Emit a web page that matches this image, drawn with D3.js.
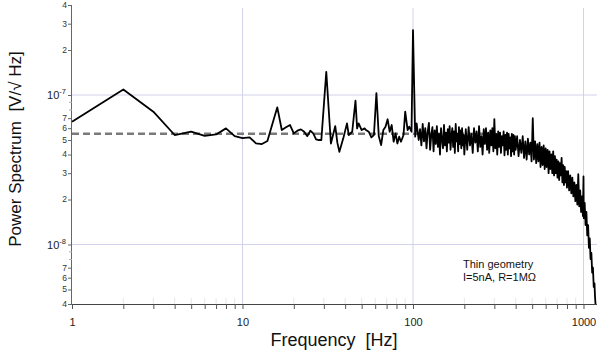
<!DOCTYPE html>
<html><head><meta charset="utf-8">
<script src="https://cdn.jsdelivr.net/npm/d3@7"></script>
<style>
body{margin:0;background:#fff}
svg{display:block;font-family:"Liberation Sans",Arial,Helvetica,sans-serif}
.pre{white-space:pre}
</style>
</head><body>
<svg id="chart" width="600" height="352"></svg>
<script>
// ---- data (frequency in Hz, spectrum in units of 1e-8 V/sqrt(Hz)) ----
const psdUnit = 1e-8;
const freqHz = [
  1,2,3,4,5,6,7,8,9,10,11,12,13,14,15,16,17,18,19,20,21,22,23,24,25,26,27,28,29,
  31,33,35,36,37,39,41,42,44,46,47,48,50,52,53,55,57,59,61,63,65,67,69,71,73,75,77,79,81,83,85,88,90,93,95,98,
  100,103,105,108,
  110,112,114,116,118,120,122,124,126,128,130,132,134,136,138,140,142,144,146,148,150,152,154,156,158,160,
  162,164,166,168,170,172,174,176,178,180,182,184,186,188,190,192,194,196,198,200,
  204,208,212,216,220,224,228,232,236,240,244,248,252,256,260,264,268,272,276,280,284,288,292,296,300,
  304,308,312,316,320,324,328,332,336,340,344,348,352,356,360,364,368,372,376,380,384,388,392,396,400,
  408,416,424,432,440,448,456,464,472,480,488,496,504,512,520,528,536,544,552,560,568,576,584,592,600,
  608,616,624,632,640,648,656,664,672,680,688,696,704,712,720,728,736,744,752,760,768,776,784,792,800,
  812,824,836,848,860,872,884,896,908,920,932,944,956,968,980,992,1000,1004,1016,1028,1040,1052,1064,1076,
  1088,1100,1112,1124,1136,1148,1160,1168,1176
];
const psdValues = [
  6.62,10.9,7.73,5.40,5.68,5.33,5.45,5.98,5.31,5.15,5.21,4.75,4.70,4.92,6.46,8.27,5.83,6.08,6.30,5.54,5.77,5.89,5.68,5.31,5.77,5.54,5.05,5.00,5.00,
  14.3,4.74,6.20,4.80,4.17,5.13,6.46,5.40,5.68,9.16,5.98,6.46,5.83,5.98,5.83,5.68,5.21,5.40,10.3,5.31,4.63,5.83,6.14,6.88,5.68,6.30,4.87,5.54,4.74,5.26,4.87,5.40,7.73,5.83,6.14,5.68,
  27.2,5.26,6.46,5.00,
  5.9,4.6,6.4,4.9,6.0,4.4,5.7,6.5,4.3,5.4,6.1,4.2,5.8,4.7,6.2,4.5,5.5,4.0,6.0,5.0,4.4,6.3,4.6,5.6,4.2,5.9,
  4.8,6.2,4.3,5.3,6.0,4.5,5.7,4.1,6.4,4.9,5.5,4.2,6.1,4.7,5.8,4.4,6.0,4.6,5.4,4.0,
  5.9,4.3,6.1,4.6,5.5,4.1,6.0,4.8,5.7,4.2,6.2,4.5,5.3,4.0,5.9,4.7,6.0,4.3,5.6,4.1,5.8,4.6,6.0,4.2,6.9,
  4.4,5.5,4.0,5.7,4.5,5.6,4.1,5.3,4.6,5.7,3.95,5.4,4.3,5.6,4.0,5.5,4.4,5.2,3.9,5.5,4.2,5.4,4.0,5.3,4.3,
  5.3,3.9,5.0,4.1,5.3,3.8,4.9,3.7,5.1,4.0,4.8,3.6,7.0,3.7,4.9,3.5,4.7,3.6,4.8,3.3,4.5,3.4,4.6,3.2,4.4,
  3.3,4.3,3.0,4.2,3.2,4.0,3.0,4.2,2.9,3.9,3.0,3.7,2.8,3.6,2.7,3.5,2.9,3.8,2.6,3.4,2.5,3.3,2.6,3.1,2.4,
  3.1,2.3,2.9,2.2,2.8,2.1,2.6,1.95,2.5,1.85,2.95,1.8,2.3,1.65,2.1,1.55,2.85,1.5,1.9,1.35,1.65,1.15,1.35,0.95,
  1.1,0.8,0.88,0.65,0.7,0.52,0.55,0.45,0.40
];
const fitLevel = 5.5e-8;          // dashed reference level
const fitFreqRange = [1, 300];
const xDomain = [1, 1200];
const yDomain = [4e-9, 4e-7];
const xMajorTicks = [1, 10, 100, 1000];
const xTickLabels = ["1", "10", "100", "1000"];
const yDecades = [1e-9, 1e-8, 1e-7];
const yMajorTicks = [1e-8, 1e-7];
const yMajorLabels = ["-8", "-7"];
const tickMantissas = [2, 3, 4, 5, 6, 7, 8, 9];
const labelledMantissas = [2, 3, 4, 5, 6, 7];
const xTitle = "Frequency  [Hz]";
const yTitle = "Power Spectrum  [V/\u221A Hz]";
const noteLines = ["Thin geometry", "I=5nA, R=1M\u03A9"];

// ---- layout ----
const svg = d3.select("#chart");
const L = 72, R = 597, T = 5, B = 304;
const x = d3.scaleLog().domain(xDomain).range([L, R]);
const y = d3.scaleLog().domain(yDomain).range([B, T]);

const data = freqHz.map((f, i) => ({f, v: psdValues[i] * psdUnit}));

// grid
const gridColor = "#d2d2ea";
svg.append("g").selectAll("line").data(xMajorTicks.filter(d => d > xDomain[0]))
  .join("line").attr("x1", d => x(d)).attr("x2", d => x(d))
  .attr("y1", 8).attr("y2", B).attr("stroke", gridColor).attr("stroke-width", 1);
svg.append("g").selectAll("line").data(yMajorTicks)
  .join("line").attr("x1", L).attr("x2", R)
  .attr("y1", d => y(d)).attr("y2", d => y(d)).attr("stroke", gridColor).attr("stroke-width", 1);

// minor tick values
const xMinor = [];
xMajorTicks.forEach(dec => tickMantissas.forEach(m => { const v = dec * m; if (v <= xDomain[1]) xMinor.push(v); }));
const yAll = [];
yDecades.forEach(dec => tickMantissas.forEach(m => {
  const v = dec * m; if (v >= yDomain[0] * 0.999 && v <= yDomain[1] * 1.001) yAll.push({v, m});
}));

// faint inner ticks on x axis
svg.append("g").selectAll("line").data(xMinor).join("line")
  .attr("x1", d => x(d)).attr("x2", d => x(d)).attr("y1", B - 6).attr("y2", B)
  .attr("stroke", "#e6e6e6").attr("stroke-width", 1);

// x axis
const xAxis = d3.axisBottom(x).tickValues(xMajorTicks.concat(xMinor))
  .tickSize(5).tickFormat(d => { const i = xMajorTicks.indexOf(d); return i >= 0 ? xTickLabels[i] : ""; });
const gx = svg.append("g").attr("transform", `translate(0,${B})`).call(xAxis);
gx.select(".domain").attr("stroke", "#444").attr("d", `M${L},0.5H${R}`);
gx.selectAll(".tick line").attr("stroke", "#555");
gx.selectAll(".tick text").attr("font-size", 11).attr("fill", "#222").attr("dy", "0.71em").attr("y", 14)
  .attr("font-family", "Liberation Sans, Arial, sans-serif");

// y axis
const yAxis = d3.axisLeft(y).tickValues(yAll.map(d => d.v).concat(yMajorTicks))
  .tickSize(4).tickFormat(() => "");
const gy = svg.append("g").attr("transform", `translate(${L},0)`).call(yAxis);
gy.select(".domain").attr("stroke", "#666").attr("d", `M-0.5,${T}V${B}`);
gy.selectAll(".tick line").attr("stroke", "#666");
gy.selectAll(".tick").each(function(d) {
  const item = yAll.find(e => Math.abs(e.v - d) / d < 1e-6);
  if (item && !labelledMantissas.includes(item.m)) {
    d3.select(this).select("line").attr("x2", -3).attr("stroke", "#aaa");
  }
});
// minor labels
svg.append("g").selectAll("text").data(yAll.filter(d => labelledMantissas.includes(d.m)))
  .join("text").attr("x", L - 5).attr("y", d => y(d.v)).attr("dy", "0.35em")
  .attr("text-anchor", "end").attr("font-size", 8.5).attr("fill", "#333").text(d => d.m);
// major labels with superscript
const maj = svg.append("g").selectAll("text").data(yMajorTicks).join("text")
  .attr("x", L - 6).attr("y", d => y(d) + 4).attr("text-anchor", "end")
  .attr("font-size", 11).attr("fill", "#222");
maj.append("tspan").text("10");
maj.append("tspan").attr("font-size", 7.5).attr("dy", -5).text((d, i) => yMajorLabels[i]);

// dashed fit level
svg.append("line").attr("x1", x(fitFreqRange[0])).attr("x2", x(fitFreqRange[1]))
  .attr("y1", y(fitLevel)).attr("y2", y(fitLevel))
  .attr("stroke", "#7a7a7a").attr("stroke-width", 2.5).attr("stroke-dasharray", "7,4");

// spectrum line
svg.append("path").datum(data)
  .attr("d", d3.line().x(d => x(d.f)).y(d => y(d.v)))
  .attr("fill", "none").attr("stroke", "#000").attr("stroke-width", 1.8)
  .attr("stroke-linejoin", "round");

// titles
svg.append("text").attr("class", "pre").attr("x", 334).attr("y", 346).attr("text-anchor", "middle")
  .attr("font-size", 18).attr("fill", "#111").text(xTitle);
svg.append("text").attr("class", "pre").attr("transform", "translate(21,149) rotate(-90)").attr("text-anchor", "middle")
  .attr("font-size", 17).attr("fill", "#111").text(yTitle);

// annotation
svg.append("g").selectAll("text").data(noteLines).join("text")
  .attr("x", 463).attr("y", (d, i) => 268 + i * 12.7)
  .attr("font-size", 11).attr("fill", "#111").text(d => d);
</script>
</body></html>
